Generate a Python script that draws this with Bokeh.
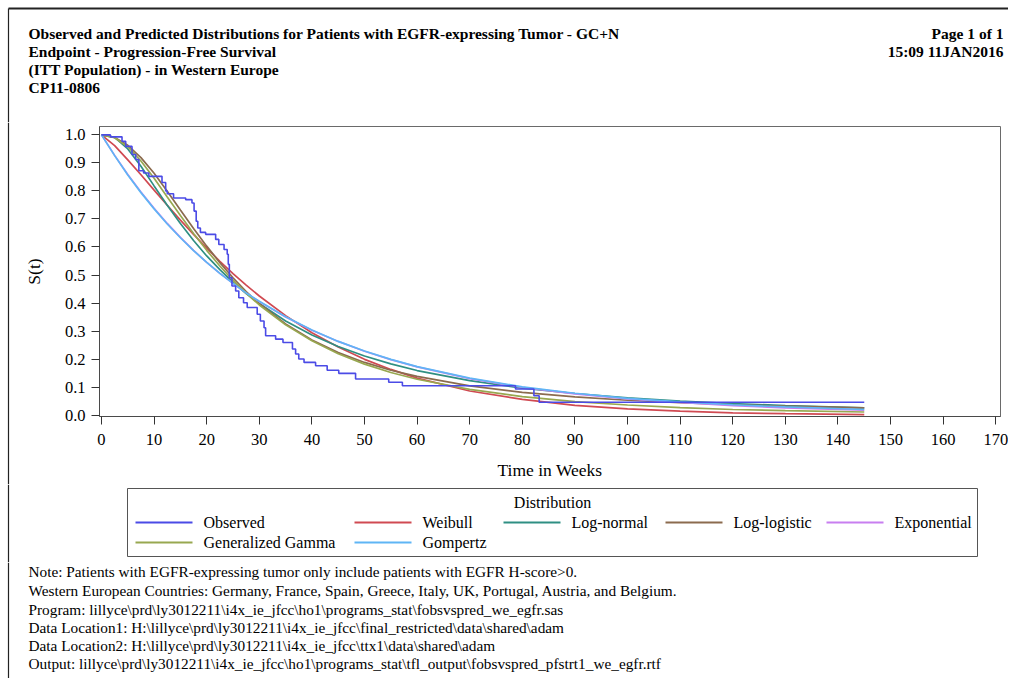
from bokeh.plotting import figure
from bokeh.layouts import column, row
from bokeh.models import Range1d, FixedTicker, PrintfTickFormatter
from bokeh.embed import file_html
from bokeh.resources import INLINE
from bokeh.core.properties import value

FONT = "Liberation Serif"
W = 1008

# ---------------- data ----------------
weeks = [0, 2.5, 5, 7.5, 10, 12.5, 15, 17.5, 20, 22.5, 25, 27.5, 30, 35, 40, 45,
         50, 55, 60, 70, 80, 90, 100, 110, 120, 130, 145]
weibull = [1.0, 0.962, 0.911, 0.858, 0.803, 0.749, 0.696, 0.645, 0.596, 0.549, 0.505,
           0.464, 0.425, 0.355, 0.294, 0.243, 0.199, 0.163, 0.132, 0.086, 0.056, 0.035,
           0.022, 0.014, 0.008, 0.005, 0.002]
lognormal = [1.0, 0.991, 0.950, 0.888, 0.818, 0.749, 0.684, 0.623, 0.568, 0.519, 0.474,
             0.434, 0.398, 0.336, 0.286, 0.245, 0.211, 0.183, 0.159, 0.123, 0.096, 0.077,
             0.062, 0.050, 0.041, 0.034, 0.026]
loglogistic = [1.0, 0.991, 0.963, 0.919, 0.863, 0.799, 0.732, 0.666, 0.603, 0.544, 0.490,
               0.441, 0.398, 0.325, 0.268, 0.223, 0.188, 0.160, 0.138, 0.104, 0.081, 0.065,
               0.053, 0.044, 0.037, 0.032, 0.026]
exponential = [1.0, 0.927, 0.859, 0.796, 0.738, 0.684, 0.634, 0.588, 0.545, 0.506, 0.470,
               0.436, 0.405, 0.350, 0.303, 0.263, 0.228, 0.198, 0.172, 0.130, 0.099, 0.076,
               0.058, 0.045, 0.034, 0.026, 0.018]
gengamma = [1.0, 0.990, 0.958, 0.907, 0.845, 0.778, 0.712, 0.648, 0.588, 0.532, 0.481,
            0.435, 0.393, 0.322, 0.265, 0.219, 0.182, 0.152, 0.128, 0.092, 0.066, 0.048,
            0.036, 0.027, 0.020, 0.016, 0.011]
gompertz = [1.0, 0.926, 0.857, 0.794, 0.736, 0.682, 0.633, 0.587, 0.545, 0.506, 0.470,
            0.436, 0.406, 0.351, 0.304, 0.263, 0.229, 0.199, 0.173, 0.132, 0.101, 0.078,
            0.060, 0.047, 0.037, 0.029, 0.020]

obs_t = [0, 1.7, 3.9, 4.6, 5.8, 6.5, 7.1, 8.0, 9.0, 11.5, 12.2, 12.5, 13.7, 16.0, 17.2,
         17.6, 18.0, 18.3, 18.8, 19.8, 21.7, 22.3, 23.3, 23.9, 24.1, 24.3, 24.8, 25.5,
         26.1, 27.0, 27.7, 29.6, 30.2, 30.9, 31.2, 33.1, 34.5, 36.3, 36.9, 37.5, 38.5,
         40.7, 42.9, 45.1, 48.3, 54.6, 57.2, 78.7, 82.2, 83.2, 145]
obs_s = [1.0, 0.993, 0.977, 0.959, 0.930, 0.912, 0.872, 0.864, 0.852, 0.830, 0.800,
         0.790, 0.775, 0.769, 0.757, 0.728, 0.692, 0.668, 0.652, 0.645, 0.627, 0.609,
         0.591, 0.574, 0.538, 0.490, 0.461, 0.443, 0.419, 0.401, 0.384, 0.360, 0.336,
         0.312, 0.283, 0.271, 0.259, 0.236, 0.218, 0.200, 0.188, 0.176, 0.160, 0.149,
         0.129, 0.117, 0.105, 0.093, 0.069, 0.046, 0.046]

x_ticks = list(range(0, 171, 10))
y_ticks = [0.0, 0.1, 0.2, 0.3, 0.4, 0.5, 0.6, 0.7, 0.8, 0.9, 1.0]

series_names = ["Observed", "Weibull", "Log-normal", "Log-logistic", "Exponential",
                "Generalized Gamma", "Gompertz"]
series_colors = ["#4b4be6", "#d04a52", "#2f8f83", "#8b6b4e", "#c87ef0", "#98a850", "#5fb5f5"]

title_lines = ["Observed and Predicted Distributions for Patients with EGFR-expressing Tumor - GC+N",
               "Endpoint - Progression-Free Survival",
               "(ITT Population) - in Western Europe",
               "CP11-0806"]
right_lines = ["Page 1 of 1", "15:09 11JAN2016"]
note_lines = [
    "Note: Patients with EGFR-expressing tumor only include patients with EGFR H-score>0.",
    "Western European Countries: Germany, France, Spain, Greece, Italy, UK, Portugal, Austria, and Belgium.",
    r"Program: lillyce\prd\ly3012211\i4x_ie_jfcc\ho1\programs_stat\fobsvspred_we_egfr.sas",
    r"Data Location1:  H:\lillyce\prd\ly3012211\i4x_ie_jfcc\final_restricted\data\shared\adam",
    r"Data Location2:  H:\lillyce\prd\ly3012211\i4x_ie_jfcc\ttx1\data\shared\adam",
    r"Output: lillyce\prd\ly3012211\i4x_ie_jfcc\ho1\programs_stat\tfl_output\fobsvspred_pfstrt1_we_egfr.rtf",
]

BORDER = "#222222"


def no_align(f):
    try:
        f.frame_align = False
    except Exception:
        pass
    return f


def text_fig(w, h):
    # frame covers the whole figure; data units equal pixels (y downwards)
    f = figure(width=w, height=h, x_range=Range1d(0, w), y_range=Range1d(h, 0),
               x_axis_type=None, y_axis_type=None, toolbar_location=None,
               output_backend="svg", min_border=0, outline_line_color=None)
    f.background_fill_color = "white"
    f.border_fill_color = "white"
    return no_align(f)


def txt(f, xs, ys, texts, size, bold=False, align="left"):
    f.text(x=xs, y=ys, text=texts, text_font=value(FONT), text_font_size=size,
           text_font_style="bold" if bold else "normal", text_baseline="middle",
           text_align=align, text_color="black")


def left_border(f, h, y0=0):
    f.segment(x0=[8], y0=[y0], x1=[8], y1=[h], line_color=BORDER, line_width=1.2)


# ---------------- header ----------------
H1 = 122
hdr = text_fig(W, H1)
hdr.segment(x0=[8], y0=[8], x1=[W], y1=[8], line_color=BORDER, line_width=2)
left_border(hdr, H1, 8)
txt(hdr, [28] * 4, [33, 51, 69, 87], title_lines, "15.5px", bold=True)
txt(hdr, [1003] * 2, [33, 51], right_lines, "15.5px", bold=True, align="right")

# ---------------- chart ----------------
H2 = 362
SW = 12
strip = text_fig(SW, H2)
left_border(strip, H2)

p = figure(width=W - SW, height=H2, x_range=Range1d(-0.38, 170.9), y_range=Range1d(-0.005, 1.03),
           toolbar_location=None, output_backend="svg",
           min_border_left=87, min_border_right=8, min_border_top=4, min_border_bottom=68,
           outline_line_color="#6a6a6a")
no_align(p)
p.grid.visible = False
p.background_fill_color = "white"
p.border_fill_color = "white"

curves = [weibull, lognormal, loglogistic, exponential, gengamma, gompertz]
for vals, col in zip(curves, series_colors[1:]):
    p.line(weeks, vals, line_color=col, line_width=1.7)
p.step(obs_t, obs_s, mode="after", line_color=series_colors[0], line_width=1.6)

p.xaxis.ticker = FixedTicker(ticks=x_ticks)
p.yaxis.ticker = FixedTicker(ticks=y_ticks)
p.yaxis.formatter = PrintfTickFormatter(format="%.1f")
for ax in (p.xaxis, p.yaxis):
    ax.minor_tick_line_color = None
    ax.major_tick_in = 0
    ax.major_tick_out = 8
    ax.axis_line_color = "#4a4a4a"
    ax.major_tick_line_color = "#333333"
    ax.major_label_text_font = FONT
    ax.major_label_text_font_size = "16.5px"
    ax.major_label_text_color = "black"
    ax.axis_label_text_font = FONT
    ax.axis_label_text_font_size = "17.5px"
    ax.axis_label_text_font_style = "normal"
    ax.axis_label_text_color = "black"
p.xaxis.axis_label = "Time in Weeks"
p.yaxis.axis_label = "S(t)"
p.xaxis.major_label_standoff = 9
p.yaxis.major_label_standoff = 6
p.xaxis.axis_label_standoff = 12
p.yaxis.axis_label_standoff = 18

# ---------------- legend ----------------
H3 = 78
lg = text_fig(W, H3)
left_border(lg, H3)
lg.quad(left=[127], right=[977], top=[4], bottom=[72], fill_color="white",
        line_color="#555555", line_width=1)
txt(lg, [552], [18], ["Distribution"], "16px", align="center")
col_x = [135, 354, 503, 665, 826]
row_y = [38, 58]
for i, (name, col) in enumerate(zip(series_names, series_colors)):
    cx = col_x[i % 5]
    ry = row_y[i // 5]
    lg.segment(x0=[cx], y0=[ry], x1=[cx + 57], y1=[ry], line_color=col, line_width=2)
    txt(lg, [cx + 68], [ry], [name], "16px")

# ---------------- notes ----------------
H4 = 116
nt = text_fig(W, H4)
left_border(nt, H4)
txt(nt, [28] * 6, [9, 28, 47, 65, 83, 101], note_lines, "15.3px")

page = column(hdr, row(strip, p, spacing=0), lg, nt, spacing=0)

open("out.html", "w").write(file_html(page, INLINE))
